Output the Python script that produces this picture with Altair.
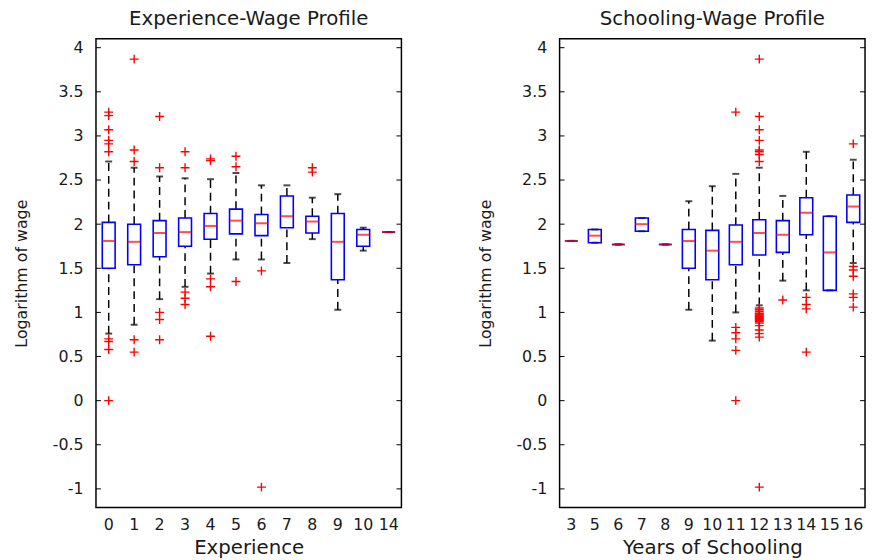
import altair as alt
import pandas as pd

# ---------------- data ----------------
y_ticks = [-1, -0.5, 0, 0.5, 1, 1.5, 2, 2.5, 3, 3.5, 4]

exp_cats = ["0", "1", "2", "3", "4", "5", "6", "7", "8", "9", "10", "14"]
exp_q1 = [1.50, 1.54, 1.63, 1.75, 1.83, 1.89, 1.87, 1.96, 1.90, 1.37, 1.75, 1.91]
exp_med = [1.81, 1.80, 1.90, 1.91, 1.98, 2.04, 2.01, 2.09, 2.03, 1.80, 1.88, 1.91]
exp_q3 = [2.02, 2.00, 2.04, 2.07, 2.12, 2.17, 2.11, 2.32, 2.09, 2.12, 1.94, 1.91]
exp_wlo = [0.76, 0.86, 1.15, 1.29, 1.44, 1.60, 1.60, 1.56, 1.83, 1.03, 1.70, 1.91]
exp_whi = [2.71, 2.64, 2.54, 2.52, 2.51, 2.58, 2.44, 2.44, 2.30, 2.34, 1.96, 1.91]
exp_out = [
    [3.27, 3.23, 3.07, 2.95, 2.91, 2.82, 0.70, 0.67, 0.58, 0.0],
    [3.87, 2.84, 2.71, 0.69, 0.55],
    [3.22, 2.64, 1.00, 0.92, 0.69],
    [2.82, 2.64, 1.23, 1.16, 1.09],
    [2.74, 2.72, 1.38, 1.29, 0.73],
    [2.77, 2.65, 1.35],
    [1.47, -0.98],
    [],
    [2.64, 2.59],
    [],
    [],
    [],
]

sch_cats = ["3", "5", "6", "7", "8", "9", "10", "11", "12", "13", "14", "15", "16"]
sch_q1 = [1.81, 1.79, 1.77, 1.92, 1.77, 1.50, 1.37, 1.54, 1.65, 1.68, 1.88, 1.25, 2.02]
sch_med = [1.81, 1.87, 1.77, 2.00, 1.77, 1.81, 1.70, 1.80, 1.90, 1.88, 2.13, 1.68, 2.20]
sch_q3 = [1.81, 1.94, 1.77, 2.07, 1.77, 1.94, 1.93, 1.99, 2.05, 2.04, 2.30, 2.09, 2.33]
sch_wlo = [1.81, 1.79, 1.77, 1.92, 1.77, 1.03, 0.68, 1.00, 1.08, 1.36, 1.25, 1.25, 1.56]
sch_whi = [1.81, 1.94, 1.77, 2.07, 1.77, 2.26, 2.43, 2.57, 2.64, 2.32, 2.82, 2.09, 2.73]
sch_out = [
    [],
    [],
    [],
    [],
    [],
    [],
    [],
    [3.27, 0.83, 0.77, 0.70, 0.57, 0.0],
    [3.87, 3.22, 3.07, 2.95, 2.84, 2.82, 2.79, 2.71,
     1.05, 1.03, 1.01, 0.99, 0.98, 0.97, 0.96, 0.95, 0.94, 0.93, 0.92, 0.91,
     0.90, 0.88, 0.85, 0.80, 0.76, 0.72, -0.98],
    [1.14],
    [1.17, 1.09, 1.04, 0.55],
    [],
    [2.91, 1.52, 1.48, 1.41, 1.21, 1.17, 1.06],
]

FONT = "DejaVu Sans"
TXT = "#1a1a1a"
W, H = 309, 474
Y_DOMAIN = [-1.21, 4.1]


def panel(cats, q1, med, q3, wlo, whi, outs, title, xtitle):
    box_df = pd.DataFrame({"cat": cats, "q1": q1, "med": med, "q3": q3,
                           "wlo": wlo, "whi": whi})
    out_df = pd.DataFrame([{"cat": c, "v": v} for c, vs in zip(cats, outs) for v in vs])
    tick_df = pd.DataFrame({"t": y_ticks})

    xscale = alt.Scale(domain=cats, paddingInner=0, paddingOuter=0)
    yscale = alt.Scale(domain=Y_DOMAIN, nice=False, zero=False)
    xaxis = alt.Axis(title=xtitle, labelAngle=0, ticks=False, domain=False, grid=False,
                     labelPadding=9, titlePadding=6, labelOverlap=False,
                     labelFont=FONT, labelFontSize=16, labelColor=TXT,
                     titleFont=FONT, titleFontSize=20, titleFontWeight="normal",
                     titleColor=TXT)
    yaxis = alt.Axis(title="Logarithm of wage", values=y_ticks, ticks=False, domain=False,
                     grid=False, labelPadding=13, titlePadding=23,
                     labelExpr="toString(datum.value)",
                     labelFont=FONT, labelFontSize=16, labelColor=TXT,
                     titleFont=FONT, titleFontSize=16, titleFontWeight="normal",
                     titleColor=TXT)

    def X():
        return alt.X("cat:N", scale=xscale, sort=cats, axis=xaxis)

    def Y(f):
        return alt.Y(f, type="quantitative", scale=yscale, axis=yaxis)

    base = alt.Chart(box_df)
    upper = base.mark_rule(color="black", strokeDash=[8, 5], strokeWidth=1.5).encode(
        x=X(), y=Y("q3"), y2="whi")
    lower = base.mark_rule(color="black", strokeDash=[8, 5], strokeWidth=1.5).encode(
        x=X(), y=Y("wlo"), y2="q1")
    cap_hi = base.mark_tick(color="black", size=7, thickness=2).encode(x=X(), y=Y("whi"))
    cap_lo = base.mark_tick(color="black", size=7, thickness=2).encode(x=X(), y=Y("wlo"))
    box = base.mark_bar(size=13, fill="white", fillOpacity=0, stroke="#0000ff",
                        strokeWidth=1.6).encode(x=X(), y=Y("q1"), y2="q3")
    median = base.mark_tick(color="#ff0000", size=13, thickness=2).encode(x=X(), y=Y("med"))
    outl = alt.Chart(out_df).mark_point(shape="M-1,0L1,0M0,-1L0,1", size=81, color="#ff0000",
                                        strokeWidth=1.4, filled=False, opacity=1).encode(
        x=X(), y=Y("v"))
    tick_l = alt.Chart(tick_df).mark_rule(color="black", strokeWidth=1).encode(
        y=Y("t"), x=alt.value(0), x2=alt.value(5))
    tick_r = alt.Chart(tick_df).mark_rule(color="black", strokeWidth=1).encode(
        y=Y("t"), x=alt.value(W - 5), x2=alt.value(W))

    return alt.layer(upper, lower, cap_hi, cap_lo, box, median, outl, tick_l, tick_r).properties(
        width=W, height=H,
        title=alt.TitleParams(title, frame="group", anchor="middle", font=FONT, fontSize=20,
                              fontWeight="normal", color=TXT, offset=10))


left = panel(exp_cats, exp_q1, exp_med, exp_q3, exp_wlo, exp_whi, exp_out,
             "Experience-Wage Profile", "Experience")
right = panel(sch_cats, sch_q1, sch_med, sch_q3, sch_wlo, sch_whi, sch_out,
              "Schooling-Wage Profile", "Years of Schooling")

chart = alt.hconcat(left, right, spacing=74).properties(
    padding={"left": 5, "top": -3, "right": 0, "bottom": 0},
    background="white",
).configure_view(stroke="black", strokeWidth=1.5)

chart.save("out.html", embed_options={"renderer": "svg", "actions": False})
